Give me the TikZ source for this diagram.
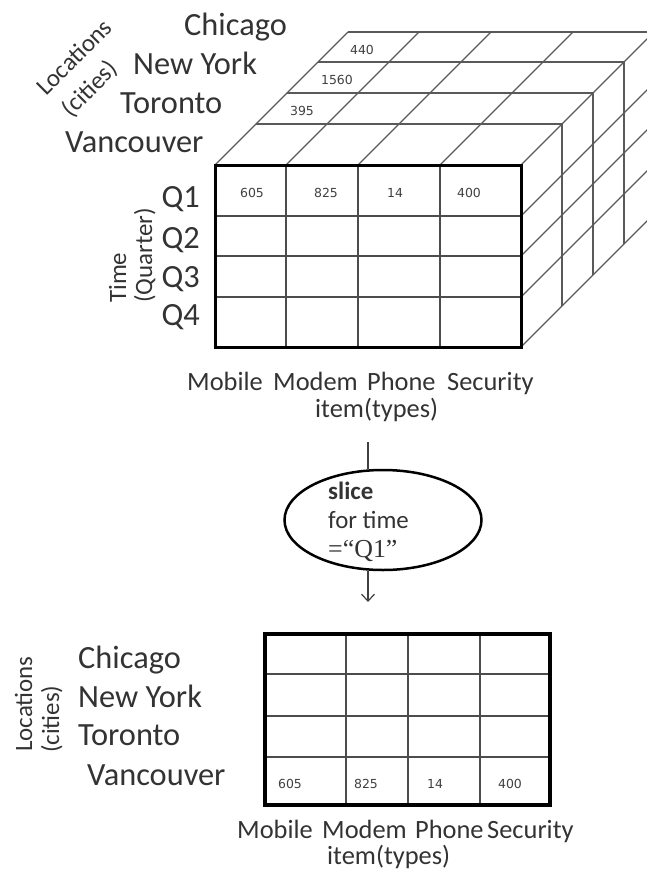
\documentclass[tikz,border=0pt]{standalone}
\usepackage{fontspec}
\setmainfont{Carlito}
\newfontfamily\cellfont{DejaVu Sans}
\newfontfamily\quotefont{Liberation Serif}
\usetikzlibrary{arrows.meta, shapes.geometric}

\tikzset{
  cube line/.style={draw=black!65, line width=1.1bp},
  grid line/.style={draw=black!70, line width=1.3bp},
  frame line/.style={draw=black, line width=3bp},
  city/.style={font=\fontsize{32.5}{32.5}\selectfont, text=black!80, inner sep=0pt, anchor=base west},
  item/.style={font=\fontsize{26.5}{26.5}\selectfont, text=black!80, inner sep=0pt, anchor=base west},
  dimname/.style={font=\fontsize{25}{25}\selectfont, text=black!80, inner sep=0pt},
  cellval/.style={font=\cellfont\fontsize{12.5}{12.5}\selectfont, text=black!75, inner sep=0pt, anchor=base},
}

\begin{document}
\begin{tikzpicture}[x=1bp, y=-1bp]
\useasboundingbox (0,0) rectangle (647,871);
\clip (0,0) rectangle (647,871);

% cube: slices behind the front face
\foreach \d in {41,72,103,133}
  \draw[cube line] (215+\d,165-\d) -- (521+\d,165-\d) -- (521+\d,347-\d);
\foreach \x in {215,286,358,440,521}
  \draw[cube line] (\x,165) -- ++(133,-133);
\foreach \y in {216,256,297,347}
  \draw[cube line] (521,\y) -- ++(133,-133);

% cube: front face
\foreach \x in {286,358,440}
  \draw[grid line] (\x,165) -- (\x,347);
\foreach \y in {216,256,297}
  \draw[grid line] (215,\y) -- (521,\y);
\draw[frame line] (215,165) rectangle (521,347);

\node[cellval] (q1mobile) at (252,197) {605};
\node[cellval] (q1modem) at (326,197) {825};
\node[cellval] (q1phone) at (395,197) {14};
\node[cellval] (q1security) at (469,197) {400};
\node[cellval] (chicagoval) at (362,54) {440};
\node[cellval] (newyorkval) at (337,84) {1560};
\node[cellval] (torontoval) at (302,115) {395};

% cube: axis names
\node[city] (chicago) at (184,35) {Chicago};
\node[city] (newyork) at (133,74) {New York};
\node[city] (toronto) at (120,113) {Toronto};
\node[city] (vancouver) at (65,152) {Vancouver};
\node[dimname, rotate=45] (locations) at (74,57) {Locations};
\node[dimname, rotate=45] (cities) at (90,89) {(cities)};

\node[city, anchor=base east] (q1) at (200,207) {Q1};
\node[city, anchor=base east] (q2) at (200,248) {Q2};
\node[city, anchor=base east] (q3) at (200,287) {Q3};
\node[city, anchor=base east] (q4) at (200,325) {Q4};
\node[dimname, rotate=90, anchor=base west] (time) at (126,303) {Time};
\node[dimname, rotate=90, anchor=base west] (quarter) at (152,303) {(Quarter)};

\node[item] (mobile) at (187,390) {Mobile};
\node[item] (modem) at (273,390) {Modem};
\node[item] (phone) at (367,390) {Phone};
\node[item] (security) at (447,390) {Security};
\node[item] (itemtypes) at (315,417) {item(types)};

% slice operation
\node[ellipse, draw, line width=2.5bp, minimum width=197bp, minimum height=100bp] (slice) at (383,520) {};
\node[item, font=\fontsize{25}{25}\selectfont\bfseries] (slicename) at (328,499) {slice};
\node[item, font=\fontsize{25}{25}\selectfont] (slicefor) at (328,528) {for time};
\node[item, font=\quotefont\fontsize{26}{26}\selectfont] (sliceq) at (328,557) {=“Q1”};

\coordinate (linetop) at (368,442);
\coordinate (arrowtip) at (368,602);
\draw[line width=1.2bp, draw=black!75] (linetop) -- (linetop |- slice.north);
\draw[line width=1.2bp, draw=black!75, -{Straight Barb[length=7bp, width=13bp]}] (arrowtip |- slice.south) -- (arrowtip);

% sliced table
\foreach \x in {346,408,480}
  \draw[grid line, line width=1.8bp] (\x,634) -- (\x,805);
\foreach \y in {674,716,757}
  \draw[grid line, line width=1.8bp] (265,\y) -- (550,\y);
\draw[frame line, line width=3.5bp] (265,634) rectangle (550,805);

\node[cellval] (vanmobile) at (290,788) {605};
\node[cellval] (vanmodem) at (366,788) {825};
\node[cellval] (vanphone) at (435,788) {14};
\node[cellval] (vansecurity) at (510,788) {400};

\node[city] (chicagob) at (78,668) {Chicago};
\node[city] (newyorkb) at (78,707) {New York};
\node[city] (torontob) at (78,745) {Toronto};
\node[city] (vancouverb) at (87,785) {Vancouver};
\node[dimname, rotate=90, anchor=base west] (locationsb) at (32,752) {Locations};
\node[dimname, rotate=90, anchor=base west] (citiesb) at (59,753) {(cities)};

\node[item] (mobileb) at (237,838) {Mobile};
\node[item] (modemb) at (322,838) {Modem};
\node[item] (phoneb) at (415,838) {Phone};
\node[item] (securityb) at (487,838) {Security};
\node[item] (itemtypesb) at (327,864) {item(types)};
\end{tikzpicture}
\end{document}
